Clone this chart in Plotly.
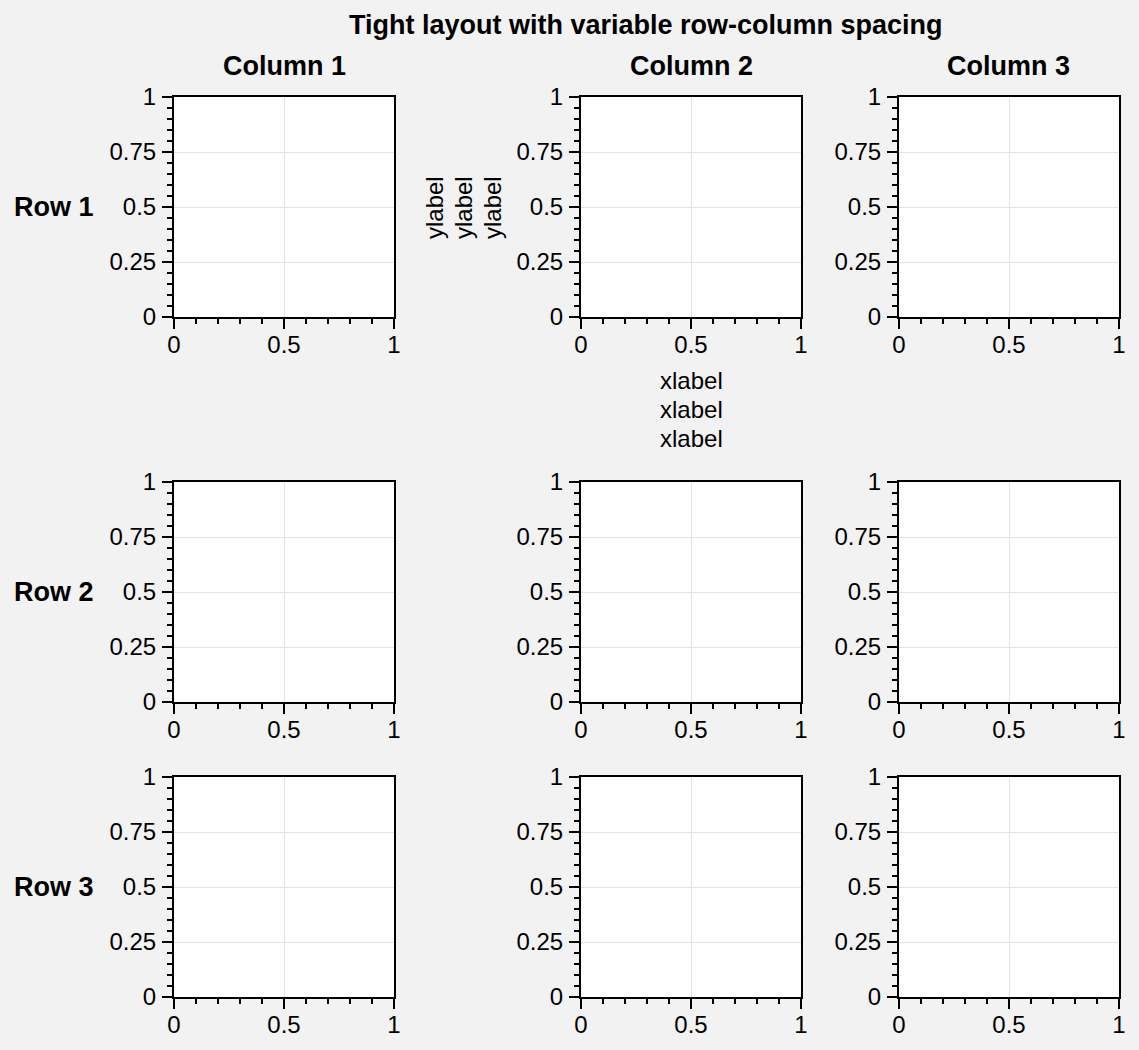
import plotly.graph_objects as go

# ---- data / text ----
title_text = "Tight layout with variable row-column spacing"
col_titles = ["Column 1", "Column 2", "Column 3"]
row_titles = ["Row 1", "Row 2", "Row 3"]
x_tick_vals = [0, 0.5, 1]
x_tick_text = ["0", "0.5", "1"]
y_tick_vals = [0, 0.25, 0.5, 0.75, 1]
y_tick_text = ["0", "0.25", "0.5", "0.75", "1"]
x_range = [0, 1]
y_range = [0, 1]
xlabel_lines = ["xlabel", "xlabel", "xlabel"]
ylabel_lines = ["ylabel", "ylabel", "ylabel"]

# ---- layout geometry (pixels) ----
W, H = 1139, 1050
col_px = [(174, 394), (581, 801), (899, 1119)]
row_px = [(97, 317), (482, 702), (777, 997)]

FONT = "Liberation Sans, Arial, Helvetica, sans-serif"


def fx(p):
    return p / W


def fy(p):
    return 1 - p / H


fig = go.Figure()
layout = dict(
    width=W,
    height=H,
    margin=dict(l=0, r=0, t=0, b=0, pad=0, autoexpand=False),
    paper_bgcolor="#f2f2f2",
    plot_bgcolor="white",
    font=dict(family=FONT, size=24, color="black"),
    showlegend=False,
)

annotations = []
n = 0
for r, (y0, y1) in enumerate(row_px):
    for c, (x0, x1) in enumerate(col_px):
        n += 1
        xa = "xaxis" if n == 1 else f"xaxis{n}"
        ya = "yaxis" if n == 1 else f"yaxis{n}"
        xref = "x" if n == 1 else f"x{n}"
        yref = "y" if n == 1 else f"y{n}"
        fig.add_trace(go.Scatter(x=[], y=[], xaxis=xref, yaxis=yref, hoverinfo="skip"))
        common = dict(
            showline=True, linecolor="black", linewidth=2, mirror=True,
            ticks="outside", ticklen=10, tickwidth=2, tickcolor="black",
            showgrid=True, gridcolor="#e3e3e3", gridwidth=1,
            zeroline=False, fixedrange=True, automargin=False,
            tickfont=dict(family=FONT, size=24, color="black"),
        )
        layout[xa] = dict(
            common, domain=[fx(x0), fx(x1)], anchor=yref, range=x_range,
            tickmode="array", tickvals=x_tick_vals, ticktext=x_tick_text,
            ticklabelstandoff=-5,
            minor=dict(dtick=0.1, ticks="outside", ticklen=5, tickwidth=1.5,
                       tickcolor="black", showgrid=False),
        )
        layout[ya] = dict(
            common, domain=[fy(y1), fy(y0)], anchor=xref, range=y_range,
            tickmode="array", tickvals=y_tick_vals, ticktext=y_tick_text,
            ticklabelstandoff=1,
            minor=dict(dtick=0.05, ticks="outside", ticklen=5, tickwidth=1.5,
                       tickcolor="black", showgrid=False),
        )

# title
annotations.append(dict(
    text=f"<b>{title_text}</b>", x=fx(646), y=fy(25), xref="paper", yref="paper",
    xanchor="center", yanchor="middle", showarrow=False,
    font=dict(family=FONT, size=27, color="black"),
))
# column titles
for c, (x0, x1) in enumerate(col_px):
    annotations.append(dict(
        text=f"<b>{col_titles[c]}</b>", x=fx((x0 + x1) / 2), y=fy(66),
        xref="paper", yref="paper", xanchor="center", yanchor="middle",
        showarrow=False, font=dict(family=FONT, size=27, color="black"),
    ))
# row titles
for r, (y0, y1) in enumerate(row_px):
    annotations.append(dict(
        text=f"<b>{row_titles[r]}</b>", x=fx(12), y=fy((y0 + y1) / 2),
        xref="paper", yref="paper", xanchor="left", yanchor="middle",
        showarrow=False, font=dict(family=FONT, size=27, color="black"),
    ))
# stacked xlabels under column 2, row 1
for i, t in enumerate(xlabel_lines):
    annotations.append(dict(
        text=t, x=fx(691), y=fy(380 + 29 * i), xref="paper", yref="paper",
        xanchor="center", yanchor="middle", showarrow=False,
        font=dict(family=FONT, size=24, color="black"),
    ))
# stacked ylabels left of column 2, row 1
for i, t in enumerate(ylabel_lines):
    annotations.append(dict(
        text=t, x=fx(434 + 29 * i), y=fy(208), xref="paper", yref="paper",
        xanchor="center", yanchor="middle", textangle=-90, showarrow=False,
        font=dict(family=FONT, size=24, color="black"),
    ))

layout["annotations"] = annotations
fig.update_layout(**layout)
fig.write_html(
    "out.html",
    config={"displayModeBar": False},
    post_script="document.body.style.margin='0';document.body.style.overflow='hidden';",
)
